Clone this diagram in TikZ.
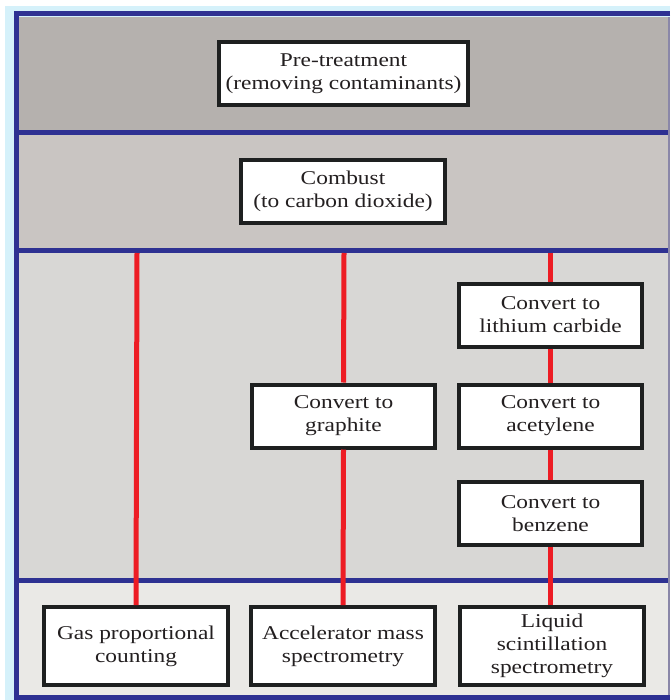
\documentclass[tikz,border=0pt]{standalone}
\usepackage{fontspec}
\setmainfont{Liberation Serif}[FakeStretch=1.2]
\usepackage{tikz}
\usetikzlibrary{positioning}
\definecolor{skyBg}{HTML}{D5F1FA}
\definecolor{frameBlue}{HTML}{2E3192}
\definecolor{edgeGray}{HTML}{8A87A8}
\definecolor{bandA}{HTML}{B5B1AE}
\definecolor{bandB}{HTML}{C9C5C2}
\definecolor{bandC}{HTML}{D8D7D5}
\definecolor{bandD}{HTML}{EAE9E6}
\definecolor{flowRed}{HTML}{ED1C24}
\definecolor{boxBlack}{HTML}{1E2020}
\definecolor{inkDark}{HTML}{231F20}

\begin{document}
\begin{tikzpicture}[
  x=1pt, y=-1pt,
  font=\fontsize{19.5}{23}\selectfont,
  stepbox/.style={draw=boxBlack, line width=4pt, fill=white, align=center,
    inner sep=0pt, text=inkDark},
  prep/.style={stepbox, minimum width=249pt, minimum height=63pt},
  conv/.style={stepbox, minimum width=183pt, minimum height=63pt},
  meas/.style={stepbox, minimum width=184pt, minimum height=78pt},
  link/.style={flowRed, line width=5pt},
  sep/.style={frameBlue, line width=5pt}
]
\useasboundingbox (0,0) rectangle (670,700);
% background and bands
\fill[skyBg] (5,6) rectangle (670,700);
\fill[bandA] (19,17) rectangle (670,133);
\fill[bandB] (19,133) rectangle (670,250);
\fill[bandC] (19,250) rectangle (670,580);
\fill[bandD] (19,580) rectangle (670,697);
% frame
\draw[sep] (670,14) -- (16,14) -- (16,700);
\draw[sep] (19,133) -- (670,133);
\draw[sep] (19,250.5) -- (670,250.5);
\draw[sep] (19,580) -- (670,580);
\draw[sep] (19,697.5) -- (670,697.5);
\draw[edgeGray, line width=1.5pt] (669.2,17) -- (669.2,695);
% preparation
\node[prep] (pretreat) at (343.5,73.5) {Pre-treatment\\(removing contaminants)};
\node[prep, minimum width=204pt] (combust) at (343,191.5) {Combust\\(to carbon dioxide)};
% conversion steps
\node[conv] (lithium) at (550.5,315) {Convert to\\lithium carbide};
\node[conv] (acetylene) at (550.5,416) {Convert to\\acetylene};
\node[conv] (benzene) at (550.5,513.5) {Convert to\\benzene};
\node[conv] (graphite) at (343.5,416) {Convert to\\graphite};
% measurement
\node[meas] (gpc) at (136,646) {Gas proportional\\counting};
\node[meas] (ams) at (343,646) {Accelerator mass\\spectrometry};
\node[meas] (lss) at (552,646) {Liquid\\scintillation\\spectrometry};
% red links
\coordinate (startL) at (137,253);
\coordinate (startM) at (344,253);
\coordinate (startR) at (550.5,253);
\draw[link] (startL) -- (gpc.north);
\draw[link] (startM) -- (graphite.north);
\draw[link] (graphite.south) -- (ams.north);
\draw[link] (startR) -- (lithium.north);
\draw[link] (lithium.south) -- (acetylene.north);
\draw[link] (acetylene.south) -- (benzene.north);
\draw[link] (benzene.south) -- (benzene.south |- lss.north);
\end{tikzpicture}
\end{document}
